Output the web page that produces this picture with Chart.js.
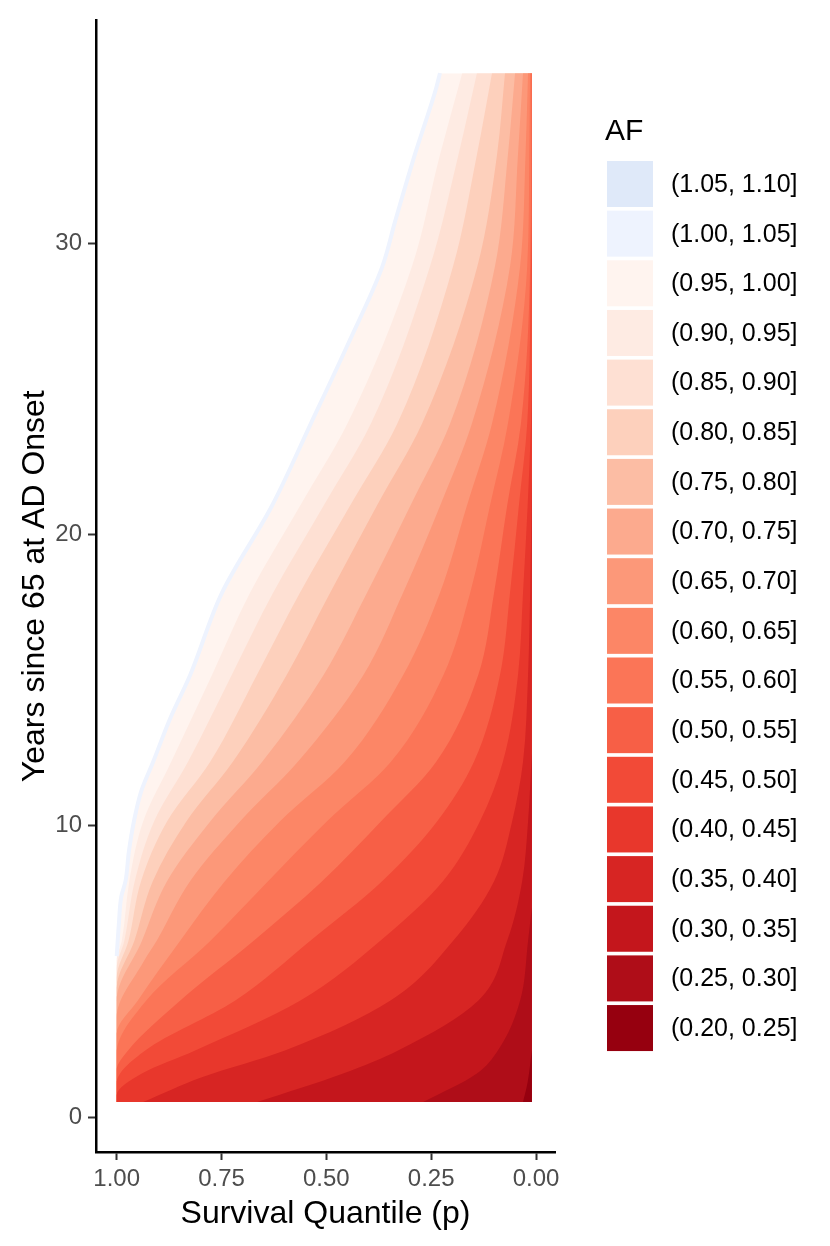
<!DOCTYPE html>
<html>
<head>
<meta charset="utf-8">
<script src="https://cdn.jsdelivr.net/npm/chart.js@4.4.0/dist/chart.umd.min.js"></script>
<style>
  html, body { margin: 0; padding: 0; background: #fff; }
  canvas { display: block; }
</style>
</head>
<body>
<canvas id="chart" width="830" height="1246"></canvas>
<script>
// legend bins, top to bottom
const legendTitle = 'AF';
const bandLabels = ['(1.05, 1.10]', '(1.00, 1.05]', '(0.95, 1.00]', '(0.90, 0.95]', '(0.85, 0.90]',
  '(0.80, 0.85]', '(0.75, 0.80]', '(0.70, 0.75]', '(0.65, 0.70]', '(0.60, 0.65]', '(0.55, 0.60]',
  '(0.50, 0.55]', '(0.45, 0.50]', '(0.40, 0.45]', '(0.35, 0.40]', '(0.30, 0.35]', '(0.25, 0.30]', '(0.20, 0.25]'];
const bandColors = ['#DFE9F9', '#EEF3FE', '#FFF4EF', '#FEEBE3', '#FEE0D3',
  '#FDD0BC', '#FCBDA4', '#FCAA8E', '#FC9879', '#FC8666', '#FB7557',
  '#F75F46', '#F24A37', '#E8372C', '#D72523', '#C4161C', '#AF0D18', '#96000F'];

const pTicks = [1, 0.75, 0.5, 0.25, 0];
const pTickLabels = ['1.00', '0.75', '0.50', '0.25', '0.00'];
const yearTicks = [0, 10, 20, 30];

// limits of the computed grid
const pMax = 1.0;
const pMin = 0.01;
const yearMin = 0.52;

// outer edge of the computed region, [p, years]
const edge = [[1.0, 5.53], [0.995, 6.6], [0.989, 7.58], [0.979, 8.1], [0.971, 9.12], [0.959, 10.15],
  [0.942, 11.17], [0.913, 12.2], [0.873, 13.67], [0.825, 15.17], [0.749, 18.0], [0.630, 20.98],
  [0.537, 23.81], [0.448, 26.55], [0.367, 29.18], [0.336, 30.75], [0.289, 33.04], [0.238, 35.33], [0.229, 35.84]];

// contour boundaries, [p, years]; afNN = upper limit of the darker band
const af95 = [[1.0, 5.36], [0.988, 6.05], [0.970, 8.1], [0.937, 10.15], [0.870, 12.2], [0.773, 15.17], [0.682, 18.0],
  [0.563, 20.98], [0.450, 23.8], [0.296, 29.2], [0.229, 33.04], [0.176, 35.84]];
const af90 = [[1.0, 5.12], [0.982, 6.05], [0.957, 8.1], [0.911, 10.15], [0.830, 12.2], [0.726, 15.17], [0.627, 18.0],
  [0.507, 20.98], [0.394, 23.8], [0.253, 29.2], [0.185, 33.04], [0.141, 35.84]];
const af85 = [[1.0, 4.78], [0.972, 6.05], [0.942, 8.1], [0.880, 10.15], [0.777, 12.2], [0.666, 15.17], [0.563, 18.0],
  [0.444, 20.98], [0.331, 23.8], [0.198, 29.2], [0.141, 33.04], [0.105, 35.84]];
const af80 = [[1.0, 4.44], [0.958, 6.05], [0.914, 8.1], [0.834, 10.15], [0.723, 12.2], [0.595, 15.17], [0.491, 18.0],
  [0.380, 20.98], [0.272, 23.8], [0.140, 29.2], [0.093, 33.04], [0.074, 35.84]];
const af75 = [[1.0, 4.0], [0.940, 6.05], [0.880, 8.1], [0.777, 10.15], [0.653, 12.2], [0.507, 15.17], [0.403, 18.0],
  [0.300, 20.98], [0.205, 23.8], [0.098, 29.2], [0.067, 33.04], [0.050, 35.84]];
const af70 = [[1.0, 3.42], [0.935, 5.36], [0.905, 6.05], [0.825, 8.1], [0.706, 10.15], [0.568, 12.2], [0.412, 15.17],
  [0.317, 18.0], [0.229, 20.98], [0.153, 23.8], [0.062, 29.2], [0.043, 33.04], [0.031, 35.84]];
const af65 = [[1.0, 2.87], [0.95, 4.0], [0.849, 6.05], [0.742, 8.1], [0.611, 10.15], [0.456, 12.2], [0.317, 15.17],
  [0.229, 18.0], [0.165, 20.98], [0.105, 23.8], [0.038, 29.2], [0.025, 33.04], [0.019, 35.84]];
const af60 = [[1.0, 2.19], [0.93, 4.0], [0.777, 6.05], [0.639, 8.1], [0.499, 10.15], [0.346, 12.2], [0.221, 15.17],
  [0.157, 18.0], [0.110, 20.98], [0.067, 23.8], [0.021, 29.2], [0.016, 33.04], [0.014, 35.84]];
const af55 = [[1.0, 1.61], [0.973, 2.29], [0.849, 4.0], [0.674, 6.05], [0.510, 8.1], [0.370, 10.15], [0.238, 12.2],
  [0.138, 15.17], [0.100, 18.0], [0.069, 20.98], [0.036, 23.8], [0.014, 29.2], [0.011, 35.84]];
const af50 = [[1.0, 1.16], [0.932, 2.29], [0.718, 4.0], [0.539, 6.05], [0.367, 8.1], [0.236, 10.15], [0.148, 12.2],
  [0.086, 15.17], [0.062, 18.0], [0.041, 20.98], [0.021, 23.8], [0.012, 29.2], [0.01, 31.0]];
const af45 = [[1.0, 0.75], [0.94, 1.5], [0.813, 2.29], [0.563, 4.0], [0.372, 6.05], [0.222, 8.1], [0.134, 10.15],
  [0.079, 12.2], [0.043, 15.17], [0.031, 18.0], [0.020, 20.98], [0.012, 23.8], [0.01, 26.0]];
const af40 = [[0.937, 0.52], [0.797, 1.37], [0.599, 2.29], [0.348, 4.0], [0.198, 6.05], [0.100, 8.1], [0.057, 10.15],
  [0.031, 12.2], [0.019, 15.17], [0.014, 18.0], [0.01, 22.0]];
const af35 = [[0.665, 0.52], [0.460, 1.5], [0.329, 2.29], [0.138, 4.0], [0.069, 6.05], [0.033, 8.1], [0.019, 10.15], [0.01, 12.5]];
const af30 = [[0.269, 0.52], [0.141, 1.5], [0.091, 2.29], [0.038, 4.0], [0.019, 6.05], [0.01, 7.2]];
const af25 = [[0.031, 0.52], [0.020, 1.2], [0.01, 2.3]];

const FONT = '"Liberation Sans", Arial, Helvetica, sans-serif';
Chart.defaults.font.family = FONT;

const toXY = pts => pts.map(([p, y]) => ({ x: p, y: y }));
// a boundary that starts on the p = 1 edge closes down that edge to the bottom of the grid
const closeLeft = pts => (pts[0][0] === pMax ? [[pMax, yearMin]].concat(pts) : pts);

// darkest first: Chart.js paints dataset 0 on top
const contours = [af25, af30, af35, af40, af45, af50, af55, af60, af65, af70, af75, af80, af85, af90, af95];

// every band fills from its boundary rightwards to the p = 0.01 edge
const band = (pts, col) => ({
  data: toXY(closeLeft(pts)),
  indexAxis: 'y',
  showLine: true,
  fill: { value: pMin },
  backgroundColor: col,
  borderColor: col,
  borderWidth: 0,
  pointRadius: 0,
  cubicInterpolationMode: 'monotone'
});

const datasets = [];
// thin (1.00, 1.05] fringe along the outer edge
datasets.push({
  data: toXY(edge),
  indexAxis: 'y',
  showLine: true,
  fill: false,
  borderColor: bandColors[1],
  borderWidth: 4,
  pointRadius: 0,
  cubicInterpolationMode: 'monotone'
});
contours.forEach((c, i) => datasets.push(band(c, bandColors[bandColors.length - 1 - i])));
datasets.push(band(edge, bandColors[2]));

const afLegend = {
  id: 'afLegend',
  afterDraw(chart) {
    const ctx = chart.ctx;
    ctx.save();
    ctx.fillStyle = '#000';
    ctx.font = '30px ' + FONT;
    ctx.textBaseline = 'alphabetic';
    ctx.fillText(legendTitle, 605, 140);
    ctx.font = '25px ' + FONT;
    ctx.textBaseline = 'middle';
    bandLabels.forEach((lab, i) => {
      const top = 161 + i * 49.65;
      ctx.fillStyle = bandColors[i];
      ctx.fillRect(607, top, 46, 46);
      ctx.fillStyle = '#000';
      ctx.fillText(lab, 671, top + 24);
    });
    ctx.restore();
  }
};

new Chart(document.getElementById('chart'), {
  type: 'scatter',
  data: { datasets: datasets },
  options: {
    responsive: false,
    animation: false,
    devicePixelRatio: 1,
    layout: { padding: { top: 15, right: 275, left: 0, bottom: 0 } },
    plugins: { legend: { display: false }, tooltip: { enabled: false } },
    scales: {
      x: {
        type: 'linear',
        reverse: true,
        min: -0.0453,
        max: 1.0494,
        afterBuildTicks: s => { s.ticks = pTicks.map(v => ({ value: v })); },
        afterFit: s => { s.height = 94; },
        ticks: {
          autoSkip: false,
          maxRotation: 0,
          color: '#4D4D4D',
          font: { size: 24 },
          padding: 5,
          callback: (v, i) => pTickLabels[i]
        },
        grid: { drawOnChartArea: false, drawTicks: true, tickLength: 8, tickColor: '#333', tickWidth: 2 },
        border: { display: true, color: '#000', width: 2.5 },
        title: {
          display: true,
          text: 'Survival Quantile (p)',
          color: '#000',
          font: { size: 32 },
          padding: { top: 0, bottom: 13 }
        }
      },
      y: {
        type: 'linear',
        min: -1.196,
        max: 37.65,
        afterBuildTicks: s => { s.ticks = yearTicks.map(v => ({ value: v })); },
        afterFit: s => { s.width = 96; },
        ticks: {
          color: '#4D4D4D',
          font: { size: 24 },
          padding: 6,
          callback: v => String(v)
        },
        grid: { drawOnChartArea: false, drawTicks: true, tickLength: 8, tickColor: '#333', tickWidth: 2 },
        border: { display: true, color: '#000', width: 2.5 },
        title: {
          display: true,
          text: 'Years since 65 at AD Onset',
          color: '#000',
          font: { size: 32 },
          padding: { top: 16, bottom: 0 }
        }
      }
    }
  },
  plugins: [afLegend]
});
</script>
</body>
</html>
